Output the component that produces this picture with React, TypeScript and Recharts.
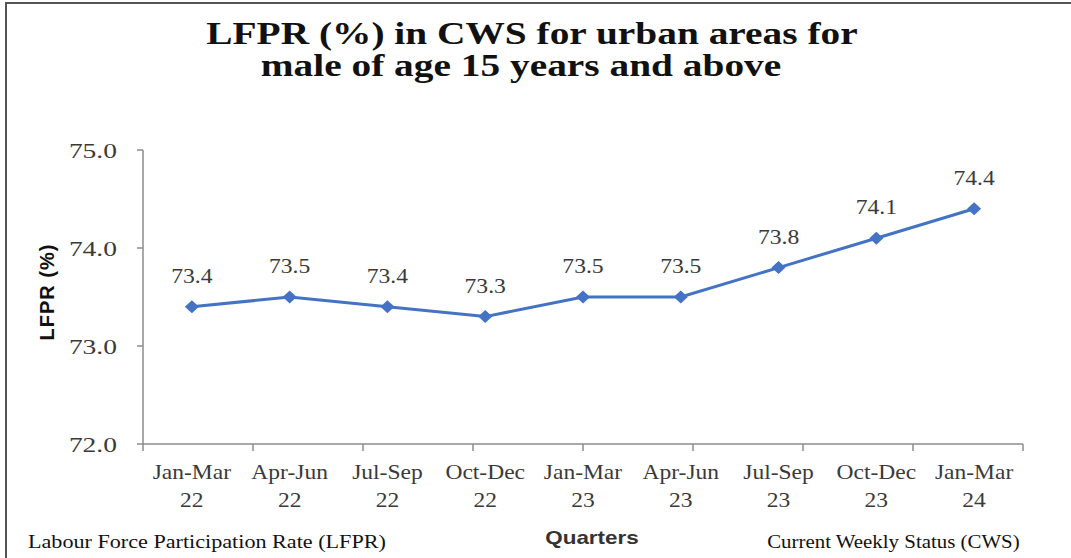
import { LineChart, Line, XAxis, YAxis, LabelList } from "recharts";

// quarters as printed under the x axis (range + two-digit year)
const quarters = [
  "Jan-Mar 22",
  "Apr-Jun 22",
  "Jul-Sep 22",
  "Oct-Dec 22",
  "Jan-Mar 23",
  "Apr-Jun 23",
  "Jul-Sep 23",
  "Oct-Dec 23",
  "Jan-Mar 24",
];
const lfpr = [73.4, 73.5, 73.4, 73.3, 73.5, 73.5, 73.8, 74.1, 74.4];
const yTicks = [72, 73, 74, 75];
// tick marks sit on the category edges, like the Excel original
const edgeTicks = [0, 1, 2, 3, 4, 5, 6, 7, 8, 9];

const titleLines = [
  "LFPR (%) in CWS for urban areas for",
  "male of age 15 years and above",
];

const data = quarters.map((quarter, i) => ({ quarter, lfpr: lfpr[i] }));

// the source picture is stretched sideways, so text gets widened a bit too
const STRETCH = 1.25;
const serif = '"Liberation Serif", "Times New Roman", serif';
const sans = '"Liberation Sans", Arial, sans-serif';
const lineColor = "#4472C4";
const axisColor = "#8c8c8c";
const textColor = "#3a3a3a";

const QuarterTick = ({ x, y, payload }: any) => {
  const [range, year] = String(payload.value).split(" ");
  return (
    <text
      x={x}
      y={y}
      textAnchor="middle"
      fontFamily={serif}
      fontSize={21}
      fill={textColor}
      style={{ transform: "scaleX(1.12)", transformBox: "fill-box", transformOrigin: "center" }}
    >
      <tspan x={x} dy={27}>
        {range}
      </tspan>
      <tspan x={x} dy={28}>
        {year}
      </tspan>
    </text>
  );
};

const ValueTick = ({ x, y, payload }: any) => (
  <text
    x={x}
    y={y}
    dy={8}
    textAnchor="end"
    fontFamily={serif}
    fontSize={22}
    fill={textColor}
    style={{ transform: `scaleX(${STRETCH})`, transformBox: "fill-box", transformOrigin: "right" }}
  >
    {Number(payload.value).toFixed(1)}
  </text>
);

const PointLabel = ({ x, y, value }: any) => (
  <text
    x={x}
    y={y - 24}
    textAnchor="middle"
    fontFamily={serif}
    fontSize={20}
    fill={textColor}
    style={{ transform: "scaleX(1.18)", transformBox: "fill-box", transformOrigin: "center" }}
  >
    {Number(value).toFixed(1)}
  </text>
);

const Diamond = (props: any) => {
  const { cx, cy, index } = props;
  if (cx == null || cy == null) return <g key={index} />;
  return (
    <path
      key={index}
      d={`M${cx},${cy - 6.5}L${cx + 7},${cy}L${cx},${cy + 6.5}L${cx - 7},${cy}Z`}
      fill={lineColor}
    />
  );
};

const App = () => {
  return (
    <div
      style={{
        position: "absolute",
        left: 0,
        top: 0,
        width: 1071,
        height: 558,
        background: "#fff",
        overflow: "hidden",
      }}
    >
      <div
        style={{
          position: "absolute",
          left: 5,
          top: 2,
          width: 1066,
          height: 556,
          borderTop: "2px solid #555",
          borderLeft: "2px solid #555",
          boxSizing: "border-box",
        }}
      />

      {titleLines.map((line, i) => (
        <div
          key={line}
          style={{
            position: "absolute",
            left: (i === 0 ? 532 : 521) - 500,
            width: 1000,
            top: 18 + i * 32,
            textAlign: "center",
            fontFamily: serif,
            fontWeight: 700,
            fontSize: 31,
            lineHeight: "31px",
            color: "#111",
            whiteSpace: "pre",
            transform: "scaleX(1.27)",
            transformOrigin: "center",
          }}
        >
          {line}
        </div>
      ))}

      <div style={{ position: "absolute", left: 0, top: 0 }}>
        <LineChart
          width={1071}
          height={558}
          data={data}
          margin={{ top: 150, right: 48, left: 83, bottom: 56 }}
        >
          <XAxis
            xAxisId="b_cat"
            dataKey="quarter"
            scale="band"
            interval={0}
            axisLine={false}
            tickLine={false}
            tickSize={0}
            tickMargin={0}
            height={50}
            tick={<QuarterTick />}
          />
          <XAxis
            xAxisId="a_edges"
            type="number"
            domain={[0, 9]}
            ticks={edgeTicks}
            interval={0}
            tick={() => <g />}
            tickSize={7}
            height={8}
            stroke={axisColor}
            strokeWidth={1.5}
          />
          <YAxis
            domain={[72, 75]}
            ticks={yTicks}
            interval={0}
            width={60}
            tickSize={6}
            tickMargin={20}
            stroke={axisColor}
            strokeWidth={1.5}
            tick={<ValueTick />}
          />
          <Line
            xAxisId="b_cat"
            dataKey="lfpr"
            stroke={lineColor}
            strokeWidth={3}
            dot={Diamond}
            activeDot={false}
            isAnimationActive={false}
          >
            <LabelList dataKey="lfpr" content={<PointLabel />} />
          </Line>
        </LineChart>
      </div>

      <div
        style={{
          position: "absolute",
          left: 47 - 60,
          top: 292 - 12,
          width: 120,
          height: 24,
          lineHeight: "24px",
          textAlign: "center",
          fontFamily: sans,
          fontWeight: 700,
          fontSize: 20,
          letterSpacing: 1,
          color: "#111",
          transform: "rotate(-90deg)",
        }}
      >
        LFPR (%)
      </div>

      <div
        style={{
          position: "absolute",
          left: 592 - 100,
          width: 200,
          top: 528,
          textAlign: "center",
          fontFamily: sans,
          fontWeight: 700,
          fontSize: 19,
          lineHeight: "19px",
          color: "#333",
          transform: "scaleX(1.18)",
        }}
      >
        Quarters
      </div>

      <div
        style={{
          position: "absolute",
          left: 28,
          top: 533,
          fontFamily: serif,
          fontSize: 18,
          lineHeight: "18px",
          color: "#111",
          whiteSpace: "pre",
          transform: "scaleX(1.23)",
          transformOrigin: "left",
        }}
      >
        Labour Force Participation Rate (LFPR)
      </div>
      <div
        style={{
          position: "absolute",
          right: 1071 - 1020,
          top: 533,
          fontFamily: serif,
          fontSize: 18,
          lineHeight: "18px",
          color: "#111",
          whiteSpace: "pre",
          transform: "scaleX(1.16)",
          transformOrigin: "right",
        }}
      >
        Current Weekly Status (CWS)
      </div>
    </div>
  );
};

export default App;
